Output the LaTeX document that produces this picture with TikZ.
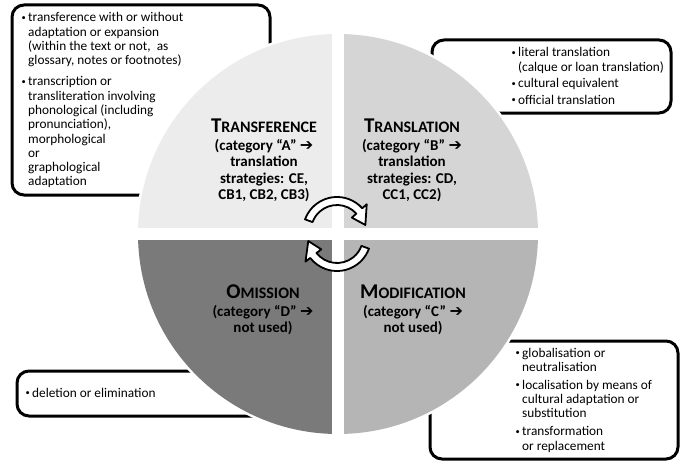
\documentclass[tikz,border=0pt]{standalone}
\usepackage{fontspec}
\setmainfont{Carlito}
\newfontfamily\arrfont{DejaVu Sans}
\usetikzlibrary{calc}
\definecolor{qTL}{gray}{0.925}
\definecolor{qTR}{gray}{0.835}
\definecolor{qBR}{gray}{0.71}
\definecolor{qBL}{gray}{0.48}
\newcommand{\catarrow}{{\arrfont\bfseries\fontsize{16}{16}\selectfont\char"2794}}
\newcommand{\bul}{\makebox[7pt][l]{\hspace*{0.5pt}\raisebox{1.6pt}{\fontsize{8.5}{8.5}\selectfont\textbullet}}}
\newcommand{\ind}{\hspace*{7pt}}
\newcommand{\quadtitle}[2]{{\fontsize{21}{16.3}\selectfont #1}{\fontsize{16}{16.3}\selectfont #2}}
\tikzset{
  listbox/.style={draw=black, line width=3pt, rounded corners=12pt, fill=white},
  listtext/.style={anchor=base west, inner sep=0pt, font=\fontsize{13.3}{14.3}\selectfont},
  quadlabel/.style={anchor=base, inner sep=0pt, font=\bfseries\fontsize{15}{16.3}\selectfont},
  cyclearrow/.style={draw=black, line width=1.8pt, fill=white, line join=round},
}
\begin{document}
\begin{tikzpicture}[x=1pt,y=-1pt]
\useasboundingbox (0,0) rectangle (700,468);
% list boxes behind the circle
\draw[listbox] (12,5) rectangle (270,195);
\draw[listbox] (432,40) rectangle (671,113);
\draw[listbox] (430,341) rectangle (678,459);
\draw[listbox] (17,371) rectangle (300,416);
% circle
\coordinate (O) at (338,234);
\fill[white] (O) circle (202.5);
\begin{scope}
  \clip (O) circle (200);
  \fill[qTL] (0,0) rectangle (332,228);
  \fill[qTR] (344,0) rectangle (700,228);
  \fill[qBL] (0,240) rectangle (332,468);
  \fill[qBR] (344,240) rectangle (700,468);
\end{scope}
% list texts
\node[listtext] (tA) at (21,22) {\parbox[t]{240pt}{\raggedright
\bul transference with or without\\
\ind adaptation or expansion\\
\ind (within the text or not,\ \ as\\
\ind glossary, notes or footnotes)\\[6.7pt]
\bul transcription or\\
\ind transliteration involving\\
\ind phonological (including\\
\ind pronunciation),\\
\ind morphological\\
\ind or\\
\ind graphological\\
\ind adaptation}};
\node[listtext] (tB) at (511,57) {\parbox[t]{160pt}{\raggedright
\bul literal translation\\
\ind (calque or loan translation)\\[2.2pt]
\bul cultural equivalent\\[2.2pt]
\bul official translation}};
\node[listtext] (tC) at (515,357) {\parbox[t]{160pt}{\raggedright
\bul globalisation or\\
\ind neutralisation\\[3.7pt]
\bul localisation by means of\\
\ind cultural adaptation or\\
\ind substitution\\[3.7pt]
\bul transformation\\
\ind or replacement}};
\node[listtext] (tD) at (25,397) {\parbox[t]{200pt}{\raggedright
\bul deletion or elimination}};
% quadrant labels
\node[quadlabel] (qA) at (264,132) {\parbox[t]{150pt}{\centering
\quadtitle{T}{RANSFERENCE}\\[2.2pt]
(category “A” \catarrow\\
translation\\
strategies: CE,\\
CB1, CB2, CB3)}};
\node[quadlabel] (qB) at (412,132) {\parbox[t]{150pt}{\centering
\quadtitle{T}{RANSLATION}\\[2.2pt]
(category “B” \catarrow\\
translation\\
strategies: CD,\\
CC1, CC2)}};
\node[quadlabel] (qD) at (263,298) {\parbox[t]{150pt}{\centering
\quadtitle{O}{MISSION}\\[1.7pt]
(category “D” \catarrow\\
not used)}};
\node[quadlabel] (qC) at (413,298) {\parbox[t]{150pt}{\centering
\quadtitle{M}{ODIFICATION}\\[1.7pt]
(category “C” \catarrow\\
not used)}};
% cycle arrows
\coordinate (C1) at (337,231);
\coordinate (C2) at (337,237);
\draw[cyclearrow] ($(C1)+(200:34)$) arc[start angle=200, end angle=318, radius=34]
  -- ($(C1)+(318:40)$) -- ($(C1)+(348:29)$) -- ($(C1)+(318:20)$)
  -- ($(C1)+(318:26)$) arc[start angle=318, end angle=200, radius=26] -- cycle;
\draw[cyclearrow] ($(C2)+(20:34)$) arc[start angle=20, end angle=142, radius=34]
  -- ($(C2)+(142:40)$) -- ($(C2)+(172:29)$) -- ($(C2)+(142:20)$)
  -- ($(C2)+(142:26)$) arc[start angle=142, end angle=20, radius=26] -- cycle;
\end{tikzpicture}
\end{document}
